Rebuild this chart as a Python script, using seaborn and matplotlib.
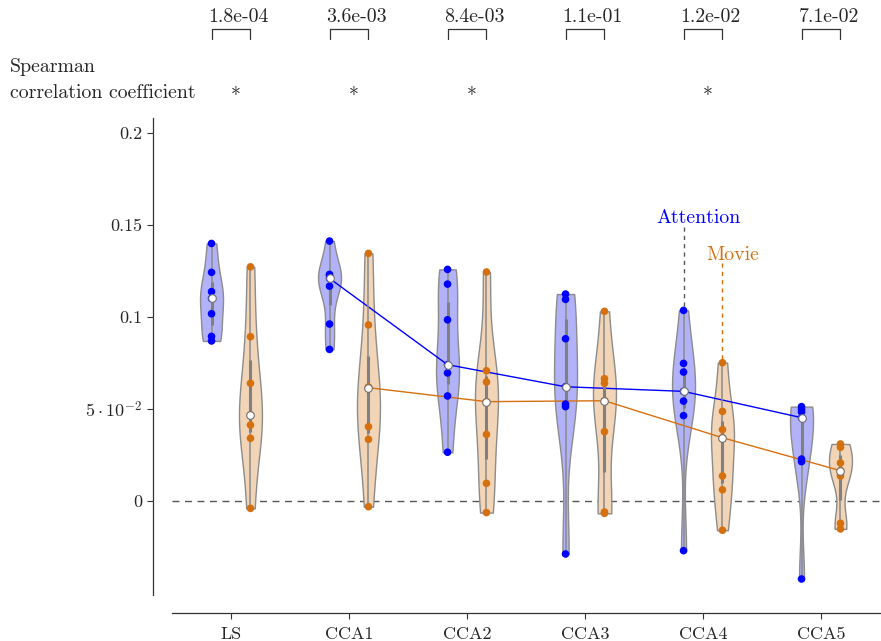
import numpy as np
import pandas as pd
import matplotlib
matplotlib.use("Agg")
import matplotlib.pyplot as plt
import seaborn as sns
from matplotlib.transforms import blended_transform_factory

# ---------------- data ----------------
categories = ["LS", "CCA1", "CCA2", "CCA3", "CCA4", "CCA5"]
conditions = ["Attention", "Movie"]
connected_categories = ["CCA1", "CCA2", "CCA3", "CCA4", "CCA5"]

attention_values = [
    [0.1400, 0.1243, 0.1138, 0.1101, 0.1018, 0.0895, 0.0870],
    [0.1413, 0.1232, 0.1225, 0.1210, 0.1168, 0.0962, 0.0824],
    [0.1259, 0.1179, 0.0985, 0.0741, 0.0696, 0.0571, 0.0265],
    [0.1125, 0.1096, 0.0882, 0.0621, 0.0527, 0.0513, -0.0288],
    [0.1036, 0.0748, 0.0701, 0.0596, 0.0543, 0.0464, -0.0270],
    [0.0513, 0.0498, 0.0484, 0.0453, 0.0228, 0.0214, -0.0424],
]
movie_values = [
    [0.1273, 0.0893, 0.0640, 0.0467, 0.0413, 0.0341, -0.0040],
    [0.1346, 0.0957, 0.0620, 0.0616, 0.0404, 0.0335, -0.0031],
    [0.1245, 0.0708, 0.0647, 0.0540, 0.0362, 0.0096, -0.0063],
    [0.1031, 0.0665, 0.0640, 0.0545, 0.0377, -0.0060, -0.0067],
    [0.0752, 0.0487, 0.0388, 0.0344, 0.0136, 0.0061, -0.0159],
    [0.0310, 0.0292, 0.0207, 0.0165, 0.0136, -0.0121, -0.0152],
]
p_values = [1.8e-04, 3.6e-03, 8.4e-03, 1.1e-01, 1.2e-02, 7.1e-02]
yticks = [0.0, 0.05, 0.10, 0.15, 0.20]
ytick_labels = ["0", r"$5\cdot10^{-2}$", "0.1", "0.15", "0.2"]
label_category = "CCA4"

# ---------------- style ----------------
point_colors = {"Attention": "#0000ff", "Movie": "#d5700f"}
fill_colors = {"Attention": "#b2b2f8", "Movie": "#f2d4b6"}
edge_grey = "#8c8c8c"
text_size = 14.3

rows = []
for cat, av, mv in zip(categories, attention_values, movie_values):
    rows += [(cat, "Attention", v) for v in av]
    rows += [(cat, "Movie", v) for v in mv]
df = pd.DataFrame(rows, columns=["category", "condition", "value"])

sns.set_style("ticks")
plt.rcParams["font.family"] = ["cmr10", "DejaVu Serif"]
plt.rcParams["mathtext.fontset"] = "cm"
plt.rcParams["axes.unicode_minus"] = False
plt.rcParams["axes.formatter.use_mathtext"] = True

fig = plt.figure(figsize=(8.81, 6.41), dpi=100)
ax = fig.add_axes([172 / 881, 1 - 595 / 641, 708 / 881, 477 / 641])

total_width = 0.66
offsets = {"Attention": -total_width / 4, "Movie": total_width / 4}

ax.axhline(0, ls=(0, (5, 4)), color="#555555", lw=1.0, zorder=0.5)

sns.violinplot(data=df, x="category", y="value", hue="condition",
               order=categories, hue_order=conditions, palette=fill_colors,
               width=total_width, gap=0.41, cut=0, density_norm="width",
               inner=None, linewidth=1.0, linecolor=edge_grey, bw_adjust=0.75,
               saturation=1, legend=False, ax=ax)

# inner lines (range and interquartile) from data
stats = df.groupby(["condition", "category"])["value"].describe()
for cond in conditions:
    s = stats.loc[cond].reindex(categories)
    xs = np.arange(len(categories)) + offsets[cond]
    ax.vlines(xs, s["min"], s["max"], color="#8a8a8a", lw=1.1, zorder=3)
    ax.vlines(xs, s["25%"], s["75%"], color="#808080", lw=2.2, zorder=3)
    sub = df[df.condition == cond]
    xp = sub["category"].map({c: i for i, c in enumerate(categories)}) + offsets[cond]
    ax.scatter(xp, sub["value"], s=30, color=point_colors[cond], edgecolors="none", zorder=4)

# median lines (only across the CCA components)
sns.pointplot(data=df[df.category.isin(connected_categories)], x="category", y="value",
              hue="condition", order=categories, hue_order=conditions,
              palette=point_colors, estimator="median", errorbar=None,
              dodge=total_width / 2, markers="", linewidth=1.0, legend=False, ax=ax)
# median markers for every violin
n_before = len(ax.lines)
sns.pointplot(data=df, x="category", y="value", hue="condition",
              order=categories, hue_order=conditions, palette=point_colors,
              estimator="median", errorbar=None, dodge=total_width / 2,
              markers="o", markersize=5.5, linestyles="none", legend=False, ax=ax)
for ln in ax.lines[n_before:]:
    ln.set_markerfacecolor("white")
    ln.set_markeredgecolor("#707070")
    ln.set_markeredgewidth(0.8)
    ln.set_zorder(5)

ax.set_xlim(-0.5, len(categories) - 0.5)
ax.set_ylim(-0.0511, 0.2082)
ax.set_yticks(yticks)
ax.set_yticklabels(ytick_labels)
ax.set_xlabel("")
ax.set_ylabel("")
ax.tick_params(axis="both", direction="out", length=4, width=0.8, labelsize=13, color="#333333")
ax.tick_params(axis="x", pad=6)
sns.despine(ax=ax, offset={"left": 14, "bottom": 13})
for sp in ("left", "bottom"):
    ax.spines[sp].set_linewidth(0.9)
    ax.spines[sp].set_color("#333333")

# Attention / Movie labels with dashed leaders
ci = categories.index(label_category)
att_max = max(attention_values[ci])
mov_max = max(movie_values[ci])
xa = ci + offsets["Attention"]
xm = ci + offsets["Movie"]
ax.text(xa + 0.127, 0.1511, "Attention", color=point_colors["Attention"],
        ha="center", va="baseline", fontsize=text_size)
ax.plot([xa, xa], [0.1490, att_max], ls=(0, (3, 3)), color="#555555", lw=1.0, zorder=2)
ax.text(xm + 0.09, 0.1311, "Movie", color=point_colors["Movie"],
        ha="center", va="baseline", fontsize=text_size)
ax.plot([xm, xm], [0.1295, mov_max], ls=(0, (3, 3)), color=point_colors["Movie"], lw=1.0, zorder=2)

# p-values and significance above the plot
trans = blended_transform_factory(ax.transData, ax.transAxes)
for i, p in enumerate(p_values):
    x0 = i + offsets["Attention"]
    x1 = i + offsets["Movie"]
    ax.plot([x0, x0, x1, x1], [1.1656, 1.1866, 1.1866, 1.1656], transform=trans,
            clip_on=False, color="#333333", lw=0.9)
    ax.text(x0 - 0.025, 1.2013, f"{p:.1e}", transform=trans, ha="left",
            va="baseline", fontsize=text_size, clip_on=False)
    if p < 0.05:
        ax.text(i + 0.035, 1.049, r"$\ast$", transform=trans, ha="center",
                va="baseline", fontsize=text_size, clip_on=False)

fig.text(10 / 881, 1 - 72 / 641, "Spearman", ha="left", va="baseline", fontsize=text_size)
fig.text(10 / 881, 1 - 98 / 641, "correlation coefficient", ha="left", va="baseline", fontsize=text_size)

fig.savefig("out.png", dpi=100)
